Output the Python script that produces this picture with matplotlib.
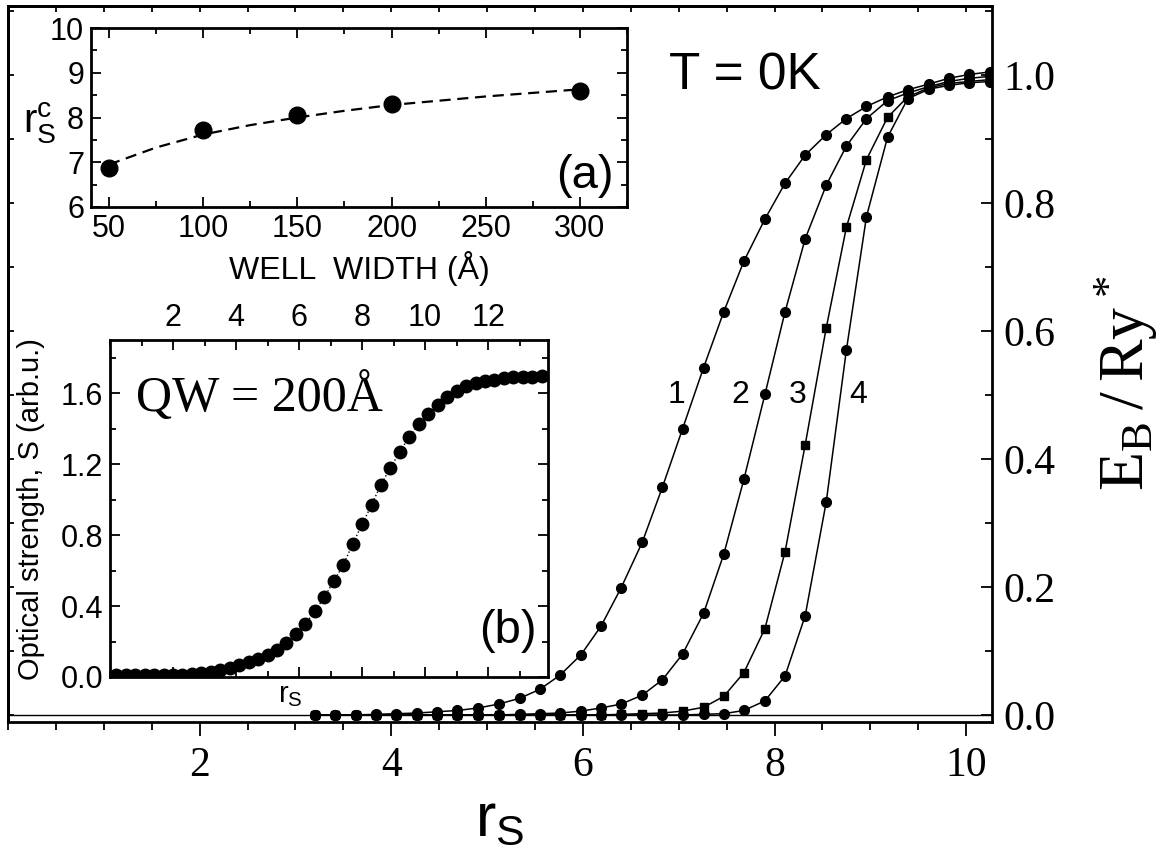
import numpy as np
import matplotlib
matplotlib.use("Agg")
import matplotlib.pyplot as plt
from matplotlib.ticker import MultipleLocator, FormatStrFormatter

plt.rcParams['mathtext.default'] = 'regular'
SANS = 'Liberation Sans'
SERIF = 'Liberation Serif'

# main panel: binding energy vs r_s, curves 1-4 share the same r_s grid
rs = [3.20, 3.41, 3.63, 3.84, 4.05, 4.27, 4.48, 4.69, 4.91, 5.12, 5.34, 5.55,
      5.76, 5.98, 6.19, 6.40, 6.62, 6.83, 7.04, 7.26, 7.47, 7.68, 7.90, 8.11,
      8.32, 8.54, 8.75, 8.96, 9.18, 9.39, 9.61, 9.82, 10.03, 10.25]
eb1 = [0.0, 0.0, 0.0, 0.001, 0.002, 0.003, 0.005, 0.007, 0.011, 0.017, 0.026, 0.040,
       0.062, 0.094, 0.139, 0.199, 0.270, 0.356, 0.447, 0.543, 0.630, 0.709, 0.775, 0.831,
       0.875, 0.907, 0.932, 0.951, 0.966, 0.977, 0.986, 0.995, 1.001, 1.005]
eb2 = [0.0, 0.0, 0.0, 0.0, 0.0, 0.0, 0.0, 0.0, 0.0, 0.0, 0.001, 0.002,
       0.003, 0.006, 0.011, 0.017, 0.031, 0.055, 0.095, 0.159, 0.251, 0.368, 0.501, 0.630,
       0.744, 0.828, 0.889, 0.932, 0.960, 0.972, 0.982, 0.990, 0.995, 0.998]
eb3 = [0.0, 0.0, 0.0, 0.0, 0.0, 0.0, 0.0, 0.0, 0.0, 0.0, 0.0, 0.0,
       0.0, 0.0, 0.0, 0.001, 0.002, 0.003, 0.006, 0.012, 0.029, 0.066, 0.135, 0.255,
       0.422, 0.605, 0.762, 0.868, 0.934, 0.966, 0.980, 0.987, 0.990, 0.993]
eb4 = [0.0, 0.0, 0.0, 0.0, 0.0, 0.0, 0.0, 0.0, 0.0, 0.0, 0.0, 0.0,
       0.0, 0.0, 0.0, 0.0, 0.0, 0.0, 0.0, 0.001, 0.002, 0.007, 0.022, 0.061,
       0.155, 0.333, 0.570, 0.779, 0.903, 0.963, 0.978, 0.984, 0.988, 0.990]
curve_labels = ['1', '2', '3', '4']
label_x = [6.98, 7.64, 8.24, 8.87]
label_y = 0.5

# inset (a): critical r_s vs well width
width = [50, 100, 150, 200, 300]
rsc = [6.87, 7.73, 8.05, 8.30, 8.60]
fit_w = [50, 75, 100, 125, 150, 175, 200, 250, 300]
fit_r = [6.95, 7.33, 7.62, 7.83, 8.00, 8.15, 8.28, 8.47, 8.63]

# inset (b): optical strength for QW = 200 A
rs_b = [0.2, 0.5, 0.8, 1.1, 1.4, 1.7, 2.0, 2.3, 2.6, 2.9, 3.2, 3.5, 3.8, 4.1, 4.4, 4.7,
        5.0, 5.3, 5.6, 5.9, 6.2, 6.5, 6.8, 7.1, 7.4, 7.7, 8.0, 8.3, 8.6, 8.9, 9.2, 9.5,
        9.8, 10.1, 10.4, 10.7, 11.0, 11.3, 11.6, 11.9, 12.2, 12.5, 12.8, 13.1, 13.4, 13.7]
strength = [0.01, 0.01, 0.01, 0.01, 0.01, 0.012, 0.012, 0.014, 0.016, 0.02, 0.026, 0.04,
            0.052, 0.066, 0.083, 0.10, 0.125, 0.15, 0.19, 0.24, 0.30, 0.37, 0.45, 0.54,
            0.63, 0.75, 0.86, 0.97, 1.085, 1.18, 1.27, 1.355, 1.425, 1.485, 1.535, 1.58,
            1.615, 1.642, 1.658, 1.668, 1.677, 1.686, 1.69, 1.692, 1.694, 1.696]

W, H = 1174, 848
def box(l, t, r, b):
    return [l / W, 1 - b / H, (r - l) / W, (b - t) / H]

fig = plt.figure(figsize=(11.74, 8.48), dpi=100)

# ---- main panel
ax = fig.add_axes(box(8, 6, 992, 722))
for y, m, ms in [(eb1, 'o', 7), (eb2, 'o', 7), (eb3, 's', 6), (eb4, 'o', 7)]:
    ax.plot(rs, y, '-', color='k', lw=1.1, marker=m, ms=ms)
ax.axhline(0, color='k', lw=1)
for t, x in zip(curve_labels, label_x):
    ax.text(x, label_y, t, fontsize=23, family=SANS, ha='center', va='center')
ax.text(7.69, 0.977, 'T = 0K', fontsize=37, family=SANS, ha='center', va='baseline')
ax.set_xlim(0, 10.27)
ax.set_ylim(-0.011, 1.108)
ax.set_xticks([2, 4, 6, 8, 10])
ax.xaxis.set_minor_locator(MultipleLocator(0.5))
ax.yaxis.set_major_locator(MultipleLocator(0.2))
ax.yaxis.set_minor_locator(MultipleLocator(0.1))
ax.yaxis.tick_right()
ax.tick_params(axis='x', which='both', direction='out', labelsize=30, pad=8, width=1.3)
ax.tick_params(axis='x', which='major', length=10)
ax.tick_params(axis='x', which='minor', length=6)
ax.tick_params(axis='y', which='both', direction='in', left=False, right=True,
               labelleft=False, labelright=True, labelsize=30, width=1.3, pad=8)
ax.tick_params(axis='y', which='major', length=8)
ax.tick_params(axis='y', which='minor', length=5)
for lab in ax.get_xticklabels() + ax.get_yticklabels():
    lab.set_family(SERIF)

# short inward ticks on top and left edges
top = ax.secondary_xaxis('top')
top.xaxis.set_major_locator(MultipleLocator(0.5))
top.tick_params(which='both', direction='in', labeltop=False, length=4, width=1.3)
left = ax.secondary_yaxis('left')
left.yaxis.set_major_locator(MultipleLocator(0.1))
left.tick_params(which='both', direction='in', labelleft=False, length=4, width=1.3)

ax.set_xlabel(r'$r_S$', fontsize=44, family=SANS, labelpad=4)
fig.text(1126 / W, 1 - 383 / H, r'$E_B\,/\,Ry^*$', fontsize=46, family=SERIF,
         rotation=90, ha='center', va='center')
for s in list(ax.spines.values()) + [top.spines['top'], left.spines['left']]:
    s.set_linewidth(2)

# ---- inset (a)
axa = fig.add_axes(box(91, 28, 627, 207))
axa.plot(fit_w, fit_r, '--', color='k', lw=1.6, dashes=(5, 3))
axa.plot(width, rsc, 'o', color='k', ms=12)
axa.set_xlim(40.4, 325)
axa.set_ylim(6, 10)
axa.xaxis.set_major_locator(MultipleLocator(50))
axa.xaxis.set_minor_locator(MultipleLocator(25))
axa.yaxis.set_major_locator(MultipleLocator(1))
axa.yaxis.set_minor_locator(MultipleLocator(0.5))
axa.tick_params(which='both', direction='in', top=True, right=True, labelsize=22,
                width=1.3, pad=5)
axa.tick_params(which='major', length=7)
axa.tick_params(which='minor', length=4)
for lab in axa.get_xticklabels() + axa.get_yticklabels():
    lab.set_family(SANS)
axa.set_xlabel('WELL  WIDTH (Å)', fontsize=23, family=SANS, labelpad=5)
fig.text(40 / W, 1 - 123 / H, r'$r_S^c$', fontsize=29, family=SANS,
         ha='center', va='center')
axa.text(0.975, 0.05, '(a)', transform=axa.transAxes, fontsize=34, family=SANS,
         ha='right', va='bottom')
for s in axa.spines.values():
    s.set_linewidth(2)

# ---- inset (b)
axb = fig.add_axes(box(110, 340, 548, 677))
axb.plot(rs_b, strength, ':', color='k', lw=1)
axb.plot(rs_b, strength, 'o', color='k', ms=9)
axb.set_xlim(0, 13.9)
axb.set_ylim(0, 1.9)
axb.set_xticks([2, 4, 6, 8, 10, 12])
axb.xaxis.set_minor_locator(MultipleLocator(1))
axb.yaxis.set_major_locator(MultipleLocator(0.4))
axb.yaxis.set_minor_locator(MultipleLocator(0.2))
axb.tick_params(which='both', direction='in', top=True, right=True, labeltop=True,
                labelbottom=False, labelsize=22, width=1.3, pad=5)
axb.tick_params(which='major', length=7)
axb.tick_params(which='minor', length=4)
axb.yaxis.set_major_formatter(FormatStrFormatter('%.1f'))
for lab in axb.get_xticklabels() + axb.get_yticklabels():
    lab.set_family(SANS)
fig.text(31 / W, 1 - 509 / H, 'Optical strength, S (arb.u.)', fontsize=21, family=SANS,
         rotation=90, ha='center', va='center')
axb.text(0.06, 0.83, 'QW = 200Å', transform=axb.transAxes, fontsize=36, family=SERIF,
         ha='left', va='center')
axb.text(0.975, 0.07, '(b)', transform=axb.transAxes, fontsize=34, family=SANS,
         ha='right', va='bottom')
axb.text(5.73, -0.025, r'$r_S$', fontsize=21, family=SANS, ha='center', va='top')
for s in axb.spines.values():
    s.set_linewidth(2)

fig.savefig('out.png', dpi=100)
